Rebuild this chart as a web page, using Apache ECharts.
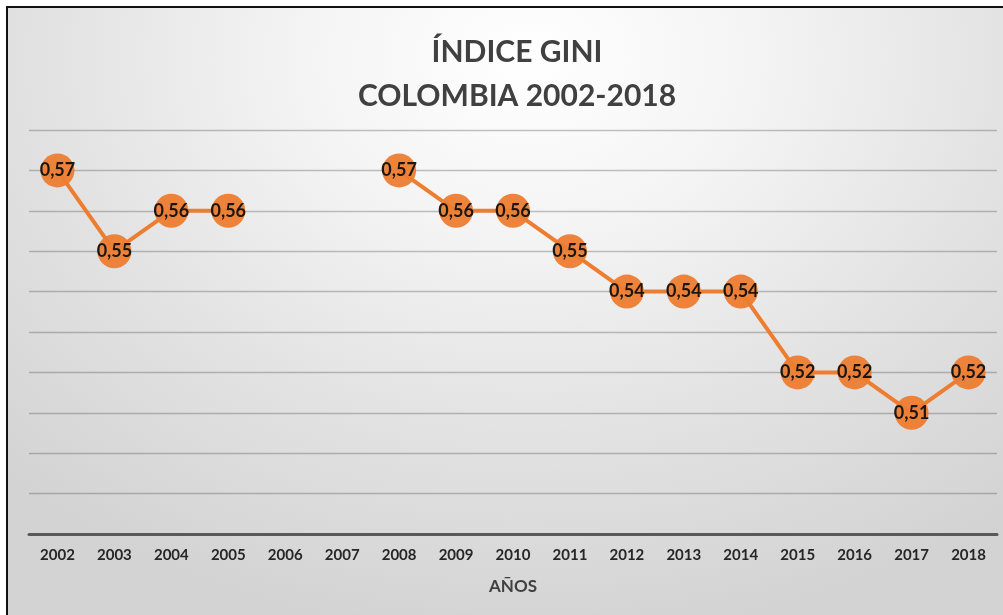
<!DOCTYPE html>
<html><head><meta charset="utf-8">
<script src="https://cdn.jsdelivr.net/npm/echarts@6/dist/echarts.min.js"></script>
<style>
html,body{margin:0;padding:0;width:1003px;height:615px;overflow:hidden;background:#fff;}
#frame{position:absolute;left:6px;top:6px;width:1003px;height:615px;border-left:2px solid #111;border-top:2px solid #111;
background:radial-gradient(ellipse 75% 95% at 52% 8%, #ffffff 0%, #f4f4f4 30%, #e2e2e2 65%, #d3d3d3 100%);}
#chart{position:absolute;left:0;top:0;width:1003px;height:615px;}
</style></head>
<body><div id="frame"></div><div id="chart"></div>
<script>
const years = ['2002','2003','2004','2005','2006','2007','2008','2009','2010','2011','2012','2013','2014','2015','2016','2017','2018'];
const gini = [0.57,0.55,0.56,0.56,null,null,0.57,0.56,0.56,0.55,0.54,0.54,0.54,0.52,0.52,0.51,0.52];
const titleText = 'ÍNDICE GINI\nCOLOMBIA 2002-2018';
const xName = 'AÑOS';
const chart = echarts.init(document.getElementById('chart'));
chart.setOption({
  backgroundColor:'transparent',
  animation:false,
  title:{text:titleText,left:512,top:25,textAlign:'center',
    textStyle:{fontFamily:'Lato',fontWeight:'bold',fontSize:30,color:'#404040',lineHeight:44}},
  grid:{left:29,right:6,top:130,bottom:81},
  xAxis:{type:'category',data:years,boundaryGap:true,
    name:xName,nameLocation:'middle',nameGap:44,
    nameTextStyle:{fontFamily:'Lato',fontWeight:'bold',fontSize:17,color:'#404040'},
    axisLine:{lineStyle:{color:'#595959',width:3}},
    axisTick:{show:false},
    axisLabel:{fontFamily:'Lato',fontWeight:'bold',fontSize:15,color:'#262626',margin:14}},
  yAxis:{type:'value',min:0.48,max:0.58,interval:0.01,
    axisLabel:{show:false},axisLine:{show:false},axisTick:{show:false},
    splitLine:{lineStyle:{color:'rgba(60,60,60,0.3)',width:1.3}}},
  series:[{type:'line',data:gini,connectNulls:false,
    symbol:'circle',symbolSize:34,
    lineStyle:{color:'#ED7D31',width:4},
    itemStyle:{color:'#ED7D31',opacity:0.95},
    label:{show:true,position:'inside',formatter:p=>p.value.toFixed(2).replace('.',','),
      fontFamily:'Lato',fontWeight:'bold',fontSize:18,color:'#111'}}]
});
</script></body></html>
